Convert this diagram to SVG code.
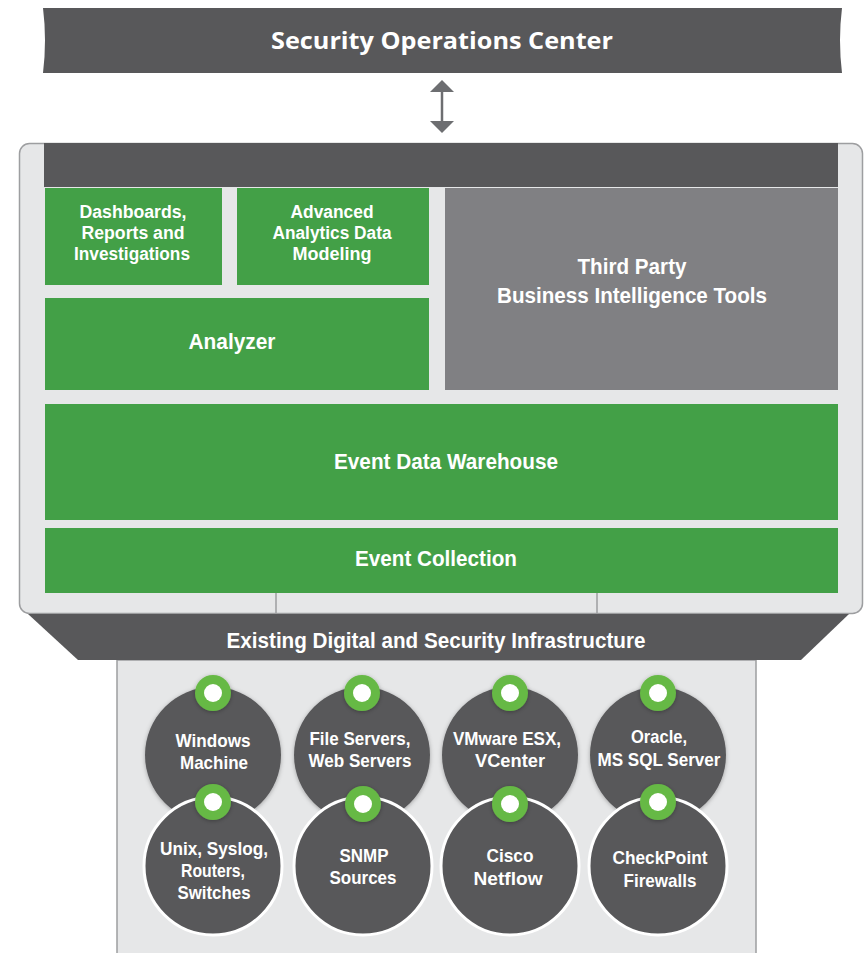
<svg xmlns="http://www.w3.org/2000/svg" width="868" height="953" viewBox="0 0 868 953">
  <style>
    .dark { fill: #58585a; }
    .green { fill: #43a047; }
    .bi { fill: #808083; }
    .panel { fill: #e6e7e8; }
    .t { font-family: "Liberation Sans Narrow", "Liberation Sans", Arial, sans-serif; font-weight: bold; fill: #ffffff; text-anchor: middle; }
    .s17 { font-size: 18px; }
    .s21 { font-size: 22px; }
    .s18 { font-size: 19px; }
    .title { font-family: "Open Sans", "Liberation Sans", sans-serif; font-weight: bold; font-size: 24px; fill: #ffffff; text-anchor: middle; }
    .src { fill: #58585a; }
    .src-low { fill: #58585a; stroke: #ffffff; stroke-width: 3; }
    .ring { fill: #66b944; }
    .hole { fill: #ffffff; }
  </style>
  <defs>
    <filter id="soft" x="-20%" y="-20%" width="140%" height="140%">
      <feDropShadow dx="0" dy="1" stdDeviation="2" flood-color="#000000" flood-opacity="0.3"/>
    </filter>
  </defs>

  <!-- SOC banner with ribbon-cut ends -->
  <g id="soc">
    <path class="dark" d="M43,8 L842,8 Q838,40 842,73 L43,73 Q47,40 43,8 Z"/>
    <text class="title" x="442" y="49" textLength="342" lengthAdjust="spacingAndGlyphs">Security Operations Center</text>
  </g>

  <!-- link between SOC and platform -->
  <g id="connectors">
    <line x1="442" y1="90" x2="442" y2="123" stroke="#6d6e71" stroke-width="2.5"/>
    <path d="M430,92 L442,80 L454,92 Z" fill="#6d6e71"/>
    <path d="M430,121 L442,133 L454,121 Z" fill="#6d6e71"/>
  </g>

  <!-- platform frame -->
  <g id="platform">
    <rect class="panel" x="19.5" y="143.5" width="843" height="470" rx="10" stroke="#9d9ea0" stroke-width="1.5"/>
    <rect class="dark" x="44" y="143" width="794" height="44"/>
    <line x1="276" y1="593" x2="276" y2="613" stroke="#9d9ea0" stroke-width="1.5"/>
    <line x1="597" y1="593" x2="597" y2="613" stroke="#9d9ea0" stroke-width="1.5"/>
  </g>

  <g id="dashboards">
    <rect class="green" x="45" y="188" width="177" height="97"/>
    <text class="t s17" x="133" y="218" textLength="107" lengthAdjust="spacingAndGlyphs">Dashboards,</text>
    <text class="t s17" x="133" y="239" textLength="103" lengthAdjust="spacingAndGlyphs">Reports and</text>
    <text class="t s17" x="132" y="260" textLength="116" lengthAdjust="spacingAndGlyphs">Investigations</text>
  </g>

  <g id="analytics">
    <rect class="green" x="237" y="188" width="192" height="97"/>
    <text class="t s17" x="332" y="218" textLength="83" lengthAdjust="spacingAndGlyphs">Advanced</text>
    <text class="t s17" x="332" y="239" textLength="119" lengthAdjust="spacingAndGlyphs">Analytics Data</text>
    <text class="t s17" x="332" y="260" textLength="79" lengthAdjust="spacingAndGlyphs">Modeling</text>
  </g>

  <g id="third-party">
    <rect class="bi" x="445" y="188" width="393" height="202"/>
    <text class="t s21" x="632" y="274" textLength="109" lengthAdjust="spacingAndGlyphs">Third Party</text>
    <text class="t s21" x="632" y="303" textLength="270" lengthAdjust="spacingAndGlyphs">Business Intelligence Tools</text>
  </g>

  <g id="analyzer">
    <rect class="green" x="45" y="298" width="384" height="92"/>
    <text class="t s21" x="232" y="349" textLength="87" lengthAdjust="spacingAndGlyphs">Analyzer</text>
  </g>

  <g id="warehouse">
    <rect class="green" x="45" y="404" width="793" height="116"/>
    <text class="t s21" x="446" y="469" textLength="224" lengthAdjust="spacingAndGlyphs">Event Data Warehouse</text>
  </g>

  <g id="collection">
    <rect class="green" x="45" y="528" width="793" height="65"/>
    <text class="t s21" x="436" y="566" textLength="162" lengthAdjust="spacingAndGlyphs">Event Collection</text>
  </g>

  <!-- infrastructure header and source panel -->
  <g id="infrastructure">
    <rect class="panel" x="117" y="660" width="639" height="300" stroke="#9d9ea0" stroke-width="1.5"/>
    <path class="dark" d="M28,614 L849,614 L801,660 L78,660 Z"/>
    <text class="t s21" x="436" y="648" textLength="419" lengthAdjust="spacingAndGlyphs">Existing Digital and Security Infrastructure</text>
  </g>

  <!-- data sources: upper row -->
  <g id="windows">
    <circle class="src" cx="213" cy="755" r="68" filter="url(#soft)"/>
    <text class="t s18" x="213" y="747" textLength="75" lengthAdjust="spacingAndGlyphs">Windows</text>
    <text class="t s18" x="214" y="769" textLength="68" lengthAdjust="spacingAndGlyphs">Machine</text>
  </g>
  <g id="file-servers">
    <circle class="src" cx="362" cy="755" r="68" filter="url(#soft)"/>
    <text class="t s18" x="360" y="745" textLength="101" lengthAdjust="spacingAndGlyphs">File Servers,</text>
    <text class="t s18" x="360" y="767" textLength="103" lengthAdjust="spacingAndGlyphs">Web Servers</text>
  </g>
  <g id="vmware">
    <circle class="src" cx="510" cy="755" r="68" filter="url(#soft)"/>
    <text class="t s18" x="507" y="745" textLength="108" lengthAdjust="spacingAndGlyphs">VMware ESX,</text>
    <text class="t s18" x="510" y="767" textLength="70" lengthAdjust="spacingAndGlyphs">VCenter</text>
  </g>
  <g id="oracle">
    <circle class="src" cx="658" cy="755" r="68" filter="url(#soft)"/>
    <text class="t s18" x="659" y="743" textLength="56" lengthAdjust="spacingAndGlyphs">Oracle,</text>
    <text class="t s18" x="659" y="766" textLength="123" lengthAdjust="spacingAndGlyphs">MS SQL Server</text>
  </g>

  <!-- data sources: lower row -->
  <g id="unix">
    <circle class="src-low" cx="213" cy="866" r="69"/>
    <text class="t s18" x="214" y="855" textLength="108" lengthAdjust="spacingAndGlyphs">Unix, Syslog,</text>
    <text class="t s18" x="213" y="877" textLength="64" lengthAdjust="spacingAndGlyphs">Routers,</text>
    <text class="t s18" x="214" y="899" textLength="73" lengthAdjust="spacingAndGlyphs">Switches</text>
  </g>
  <g id="snmp">
    <circle class="src-low" cx="363" cy="866" r="69"/>
    <text class="t s18" x="364" y="862" textLength="49" lengthAdjust="spacingAndGlyphs">SNMP</text>
    <text class="t s18" x="363" y="884" textLength="67" lengthAdjust="spacingAndGlyphs">Sources</text>
  </g>
  <g id="cisco">
    <circle class="src-low" cx="510" cy="866" r="69"/>
    <text class="t s18" x="510" y="862" textLength="47" lengthAdjust="spacingAndGlyphs">Cisco</text>
    <text class="t s18" x="508" y="885" textLength="69" lengthAdjust="spacingAndGlyphs">Netflow</text>
  </g>
  <g id="checkpoint">
    <circle class="src-low" cx="658" cy="866" r="69"/>
    <text class="t s18" x="660" y="864" textLength="95" lengthAdjust="spacingAndGlyphs">CheckPoint</text>
    <text class="t s18" x="660" y="887" textLength="73" lengthAdjust="spacingAndGlyphs">Firewalls</text>
  </g>

  <!-- connection points on each source -->
  <g id="ports">
    <circle class="ring" cx="213" cy="693" r="18" filter="url(#soft)"/><circle class="hole" cx="213" cy="693" r="9"/>
    <circle class="ring" cx="362" cy="693" r="18" filter="url(#soft)"/><circle class="hole" cx="362" cy="693" r="9"/>
    <circle class="ring" cx="510" cy="693" r="18" filter="url(#soft)"/><circle class="hole" cx="510" cy="693" r="9"/>
    <circle class="ring" cx="658" cy="693" r="18" filter="url(#soft)"/><circle class="hole" cx="658" cy="693" r="9"/>
    <circle class="ring" cx="213" cy="802" r="18" filter="url(#soft)"/><circle class="hole" cx="213" cy="802" r="9"/>
    <circle class="ring" cx="363" cy="804" r="18" filter="url(#soft)"/><circle class="hole" cx="363" cy="804" r="9"/>
    <circle class="ring" cx="510" cy="804" r="18" filter="url(#soft)"/><circle class="hole" cx="510" cy="804" r="9"/>
    <circle class="ring" cx="658" cy="802" r="18" filter="url(#soft)"/><circle class="hole" cx="658" cy="802" r="9"/>
  </g>
</svg>
